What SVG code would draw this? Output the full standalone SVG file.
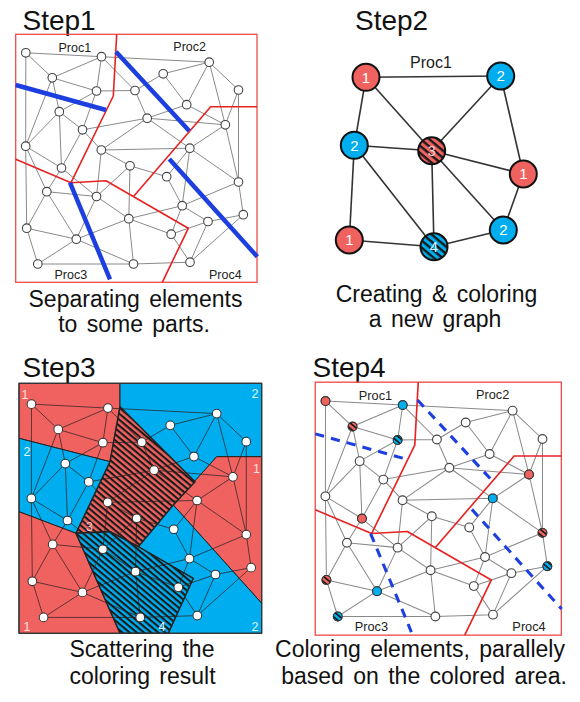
<svg xmlns="http://www.w3.org/2000/svg" xmlns:xlink="http://www.w3.org/1999/xlink" width="580" height="702" viewBox="0 0 580 702">
<style>
.title{font-family:"Liberation Sans",Arial,sans-serif;font-size:28px;fill:#111}
.cap{font-family:"Liberation Sans",Arial,sans-serif;font-size:23px;fill:#111;text-anchor:middle;word-spacing:3px}
.proc{font-family:"Liberation Sans",Arial,sans-serif;font-size:12.5px;fill:#222}
.num{font-family:"Liberation Sans",Arial,sans-serif;font-size:15px;fill:#fff;text-anchor:middle}
.rnum{font-family:"Liberation Sans",Arial,sans-serif;font-size:12.5px;text-anchor:middle}
.frame{fill:none;stroke:#f04a4a;stroke-width:1.3}
.part{fill:none;stroke:#e82222;stroke-width:1.6;stroke-linejoin:round}
.blue{stroke:#1d3fe0;stroke-width:4.5;fill:none}
.bdash{stroke:#1d3fe0;stroke-width:3;fill:none;stroke-dasharray:9 7}
.e1{stroke:#8a8a8a;stroke-width:1;fill:none}
.n1{fill:#fff;stroke:#444;stroke-width:1.1}
.e3{stroke:#2a2020;stroke-width:0.9;fill:none;opacity:0.8}
.n3{fill:#fff;stroke:#333;stroke-width:1}
.g2e{stroke:#333;stroke-width:1.6;fill:none}
.g2n{stroke:#111;stroke-width:2}
.reg{stroke:#222;stroke-width:1;stroke-linejoin:round}
.red{fill:#f0625f}
.cy{fill:#00aeef}
.cn{stroke:#333;stroke-width:1}
</style>
<defs>
<pattern id="hR" patternUnits="userSpaceOnUse" width="4.6" height="4.6" patternTransform="rotate(40)">
<rect width="4.6" height="4.6" fill="#f0625f"/><rect width="4.6" height="2.1" fill="#1a1a1a"/>
</pattern>
<pattern id="hB" patternUnits="userSpaceOnUse" width="4.6" height="4.6" patternTransform="rotate(40)">
<rect width="4.6" height="4.6" fill="#00aeef"/><rect width="4.6" height="2.1" fill="#1a1a1a"/>
</pattern>
<pattern id="hR2" patternUnits="userSpaceOnUse" width="5.5" height="5.5" patternTransform="rotate(40)">
<rect width="5.5" height="5.5" fill="#f0625f"/><rect width="5.5" height="2.4" fill="#1a1a1a"/>
</pattern>
<pattern id="hB2" patternUnits="userSpaceOnUse" width="5.5" height="5.5" patternTransform="rotate(40)">
<rect width="5.5" height="5.5" fill="#00aeef"/><rect width="5.5" height="2.4" fill="#1a1a1a"/>
</pattern>
<pattern id="hRs" patternUnits="userSpaceOnUse" width="4" height="4" patternTransform="rotate(40)">
<rect width="4" height="4" fill="#f0625f"/><rect width="4" height="1.6" fill="#1a1a1a"/>
</pattern>
<pattern id="hBs" patternUnits="userSpaceOnUse" width="4" height="4" patternTransform="rotate(40)">
<rect width="4" height="4" fill="#00aeef"/><rect width="4" height="1.6" fill="#1a1a1a"/>
</pattern>
<path id="meshEdges" d="M25.8 52.8L101.5 56.7M25.8 52.8L52.3 77.8M25.8 52.8L25.7 146.2M101.5 56.7L52.3 77.8M101.5 56.7L96.5 91M101.5 56.7L135 90.5M101.5 56.7L209.2 62.2M209.2 62.2L163.2 73.8M209.2 62.2L186.7 104.7M209.2 62.2L238.5 90M209.2 62.2L225.3 124.8M52.3 77.8L96.5 91M52.3 77.8L59.3 111.7M52.3 77.8L25.7 146.2M163.2 73.8L135 90.5M163.2 73.8L186.7 104.7M96.5 91L135 90.5M96.5 91L59.3 111.7M96.5 91L82.5 129.8M135 90.5L147.2 118.2M238.5 90L225.3 124.8M238.5 90L238.5 182M186.7 104.7L147.2 118.2M186.7 104.7L225.3 124.8M59.3 111.7L82.5 129.8M59.3 111.7L25.7 146.2M59.3 111.7L61.5 168M147.2 118.2L82.5 129.8M147.2 118.2L225.3 124.8M147.2 118.2L101.3 150M147.2 118.2L189.8 148.2M225.3 124.8L189.8 148.2M225.3 124.8L238.5 182M82.5 129.8L101.3 150M82.5 129.8L61.5 168M25.7 146.2L61.5 168M25.7 146.2L46.8 191.7M25.7 146.2L26.7 228.2M101.3 150L189.8 148.2M101.3 150L130 165.8M101.3 150L96.5 196.5M189.8 148.2L166.7 176.7M189.8 148.2L238.5 182M189.8 148.2L182.2 205.7M130 165.8L166.7 176.7M130 165.8L96.5 196.5M130 165.8L128.8 218.7M61.5 168L46.8 191.7M61.5 168L96.5 196.5M166.7 176.7L182.2 205.7M238.5 182L182.2 205.7M238.5 182L243.3 214.7M46.8 191.7L96.5 196.5M46.8 191.7L26.7 228.2M46.8 191.7L76.3 239.2M96.5 196.5L128.8 218.7M96.5 196.5L76.3 239.2M182.2 205.7L208 221.5M182.2 205.7L171.2 234.2M182.2 205.7L128.8 218.7M243.3 214.7L208 221.5M243.3 214.7L190 262.2M208 221.5L190 262.2M208 221.5L171.2 234.2M128.8 218.7L76.3 239.2M128.8 218.7L171.2 234.2M128.8 218.7L133.5 264M26.7 228.2L76.3 239.2M26.7 228.2L37.8 264M76.3 239.2L37.8 264M76.3 239.2L133.5 264M171.2 234.2L190 262.2M37.8 264L133.5 264M133.5 264L190 262.2"/>
<g id="meshNodes">
<circle cx="25.8" cy="52.8" r="4.3"/><circle cx="101.5" cy="56.7" r="4.3"/><circle cx="209.2" cy="62.2" r="4.3"/><circle cx="52.3" cy="77.8" r="4.3"/>
<circle cx="163.2" cy="73.8" r="4.3"/><circle cx="96.5" cy="91" r="4.3"/><circle cx="135" cy="90.5" r="4.3"/><circle cx="238.5" cy="90" r="4.3"/>
<circle cx="186.7" cy="104.7" r="4.3"/><circle cx="59.3" cy="111.7" r="4.3"/><circle cx="147.2" cy="118.2" r="4.3"/><circle cx="225.3" cy="124.8" r="4.3"/>
<circle cx="82.5" cy="129.8" r="4.3"/><circle cx="25.7" cy="146.2" r="4.3"/><circle cx="101.3" cy="150" r="4.3"/><circle cx="189.8" cy="148.2" r="4.3"/>
<circle cx="130" cy="165.8" r="4.3"/><circle cx="61.5" cy="168" r="4.3"/><circle cx="166.7" cy="176.7" r="4.3"/><circle cx="238.5" cy="182" r="4.3"/>
<circle cx="46.8" cy="191.7" r="4.3"/><circle cx="96.5" cy="196.5" r="4.3"/><circle cx="182.2" cy="205.7" r="4.3"/><circle cx="243.3" cy="214.7" r="4.3"/>
<circle cx="208" cy="221.5" r="4.3"/><circle cx="128.8" cy="218.7" r="4.3"/><circle cx="26.7" cy="228.2" r="4.3"/><circle cx="76.3" cy="239.2" r="4.3"/>
<circle cx="171.2" cy="234.2" r="4.3"/><circle cx="37.8" cy="264" r="4.3"/><circle cx="133.5" cy="264" r="4.3"/><circle cx="190" cy="262.2" r="4.3"/>
</g>
<g id="partLines">
<path d="M116.7 34.3L113.3 96L71 182.7"/>
<path d="M15.7 159.3L71 182.7L106 180.7L188.3 228.3L162.3 282.3"/>
<path d="M257 106.7L210.7 106.7L133.3 196.7"/>
</g>
</defs>
<rect width="580" height="702" fill="#fff"/>

<!-- Step 1 -->
<g id="step1">
<text class="title" x="22.5" y="30">Step1</text>
<use href="#meshEdges" class="e1"/>
<use href="#meshNodes" class="n1"/>
<rect class="frame" x="15.7" y="34.3" width="241.3" height="248"/>
<use href="#partLines" class="part"/>
<g id="step1-cuts">
<line class="blue" x1="15.7" y1="85" x2="106" y2="110"/>
<line class="blue" x1="116" y1="51.7" x2="189.3" y2="131"/>
<line class="blue" x1="169.3" y1="159" x2="257.3" y2="256.7"/>
<line class="blue" x1="70" y1="182.7" x2="110" y2="279.3"/>
</g>
<text class="proc" x="58.5" y="52">Proc1</text>
<text class="proc" x="173.3" y="51">Proc2</text>
<text class="proc" x="54.5" y="278.5">Proc3</text>
<text class="proc" x="209" y="278.5">Proc4</text>
<text class="cap" x="135.5" y="307">Separating elements</text>
<text class="cap" x="134" y="332">to some parts.</text>
</g>

<!-- Step 2 -->
<g id="step2">
<text class="title" x="355" y="30">Step2</text>
<text class="proc" style="font-size:16px" x="410" y="68">Proc1</text>
<g id="step2-edges" class="g2e">
<line x1="366" y1="77.3" x2="500.7" y2="76"/>
<line x1="366" y1="77.3" x2="354.3" y2="145.3"/>
<line x1="366" y1="77.3" x2="431.7" y2="150.7"/>
<line x1="500.7" y1="76" x2="431.7" y2="150.7"/>
<line x1="500.7" y1="76" x2="523.3" y2="174"/>
<line x1="354.3" y1="145.3" x2="431.7" y2="150.7"/>
<line x1="354.3" y1="145.3" x2="349.3" y2="240"/>
<line x1="354.3" y1="145.3" x2="434" y2="246.7"/>
<line x1="431.7" y1="150.7" x2="523.3" y2="174"/>
<line x1="431.7" y1="150.7" x2="434" y2="246.7"/>
<line x1="431.7" y1="150.7" x2="503.3" y2="230"/>
<line x1="523.3" y1="174" x2="503.3" y2="230"/>
<line x1="349.3" y1="240" x2="434" y2="246.7"/>
<line x1="434" y1="246.7" x2="503.3" y2="230"/>
</g>
<g id="g2-a"><circle class="g2n red" cx="366" cy="77.3" r="13.5"/><text class="num" x="366" y="82.5">1</text></g>
<g id="g2-b"><circle class="g2n cy" cx="500.7" cy="76" r="13.5"/><text class="num" x="500.7" y="81.2">2</text></g>
<g id="g2-c"><circle class="g2n cy" cx="354.3" cy="145.3" r="13.5"/><text class="num" x="354.3" y="150.5">2</text></g>
<g id="g2-d"><circle class="g2n" fill="url(#hR2)" cx="431.7" cy="150.7" r="13.5"/><text class="num" x="431.7" y="155.9" style="fill:#f3d0d0">3</text></g>
<g id="g2-e"><circle class="g2n red" cx="523.3" cy="174" r="13.5"/><text class="num" x="523.3" y="179.2">1</text></g>
<g id="g2-f"><circle class="g2n red" cx="349.3" cy="240" r="13.5"/><text class="num" x="349.3" y="245.2">1</text></g>
<g id="g2-g"><circle class="g2n" fill="url(#hB2)" cx="434" cy="246.7" r="13.5"/><text class="num" x="434" y="251.9" style="fill:#d8f0ff">4</text></g>
<g id="g2-h"><circle class="g2n cy" cx="503.3" cy="230" r="13.5"/><text class="num" x="503.3" y="235.2">2</text></g>
<text class="cap" x="436.5" y="302">Creating &amp; coloring</text>
<text class="cap" x="435" y="327">a new graph</text>
</g>

<!-- Step 3 -->
<g id="step3">
<text class="title" x="22.5" y="376.5">Step3</text>
<g id="step3-regions">
<polygon class="reg red" points="19,383.3 120,383.3 120,406.7 110,461.7 19,438.3"/>
<polygon class="reg cy" points="19,438.3 110,461.7 76,533.3 19,511.7"/>
<polygon class="reg red" points="19,511.7 76,533.3 120,633.3 19,633.3"/>
<polygon class="reg cy" points="120,383.3 261.7,383.3 261.7,456.7 216.7,456.7 195,481.7 120,406.7"/>
<polygon class="reg red" points="216.7,456.7 261.7,456.7 261.7,603.3 173.3,505"/>
<polygon class="reg cy" points="173.3,505 261.7,603.3 261.7,633.3 168.3,633.3 193.3,578.3 138.3,546.7"/>
<polygon class="reg" fill="url(#hR)" style="stroke-width:1.5" points="120,406.7 195,481.7 173.3,505 138.3,546.7 110,531.7 76,533.3 110,461.7"/>
<polygon class="reg" fill="url(#hB)" style="stroke-width:1.5" points="76,533.3 110,531.7 138.3,546.7 193.3,578.3 168.3,633.3 120,633.3"/>
<rect x="19" y="383.3" width="242.7" height="250" fill="none" stroke="#333" stroke-width="1.2"/>
</g>
<g transform="matrix(1.01 0 0 1.01 5.4 350.8)">
<use href="#meshEdges" class="e3"/>
<use href="#meshNodes" class="n3"/>
</g>
<g id="step3-labels">
<text class="rnum" x="25" y="399" fill="#fde0e0">1</text>
<text class="rnum" x="255" y="398" fill="#e0f5ff">2</text>
<text class="rnum" x="27" y="456" fill="#e0f5ff">2</text>
<text class="rnum" x="256.5" y="473" fill="#fde0e0">1</text>
<text class="rnum" x="89.5" y="531" fill="#f2c6c6">3</text>
<text class="rnum" x="27" y="631" fill="#fde0e0">1</text>
<text class="rnum" x="162" y="631" fill="#e0f5ff">4</text>
<text class="rnum" x="255" y="631" fill="#e0f5ff">2</text>
</g>
<text class="cap" x="142" y="657">Scattering the</text>
<text class="cap" x="142.5" y="684">coloring result</text>
</g>

<!-- Step 4 -->
<g id="step4">
<text class="title" x="312.5" y="376.5">Step4</text>
<g transform="matrix(1.02 0 0 1.02 299.2 347.2)">
<use href="#meshEdges" class="e1"/>
<use href="#meshNodes" class="n1"/>
<g id="step4-colored" class="cn">
<circle class="red" cx="25.8" cy="52.8" r="4.3"/>
<circle class="cy" cx="101.5" cy="56.7" r="4.3"/>
<circle fill="url(#hRs)" cx="52.3" cy="77.8" r="4.3"/>
<circle fill="url(#hBs)" cx="96.5" cy="91" r="4.3"/>
<circle class="red" cx="225.3" cy="124.8" r="4.3"/>
<circle class="cy" cx="189.8" cy="148.2" r="4.3"/>
<circle fill="url(#hRs)" cx="238.5" cy="182" r="4.3"/>
<circle fill="url(#hBs)" cx="243.3" cy="214.7" r="4.3"/>
<circle class="red" cx="61.5" cy="168" r="4.3"/>
<circle fill="url(#hRs)" cx="26.7" cy="228.2" r="4.3"/>
<circle class="cy" cx="76.3" cy="239.2" r="4.3"/>
<circle fill="url(#hBs)" cx="37.8" cy="264" r="4.3"/>
</g>
<rect class="frame" x="15.7" y="34.3" width="241.3" height="248"/>
<use href="#partLines" class="part"/>
<text class="proc" x="58.5" y="52">Proc1</text>
<text class="proc" x="173.3" y="51">Proc2</text>
<text class="proc" x="54.5" y="278.5">Proc3</text>
<text class="proc" x="209" y="278.5">Proc4</text>
<g id="step4-cuts">
<line class="bdash" x1="15.7" y1="85" x2="106" y2="110"/>
<line class="bdash" x1="116" y1="51.7" x2="189.3" y2="131"/>
<line class="bdash" x1="169.3" y1="159" x2="257.3" y2="256.7"/>
<line class="bdash" x1="70" y1="182.7" x2="110" y2="279.3"/>
</g>
</g>
<text class="cap" x="420" y="657">Coloring elements, parallely</text>
<text class="cap" x="424" y="684">based on the colored area.</text>
</g>
</svg>
